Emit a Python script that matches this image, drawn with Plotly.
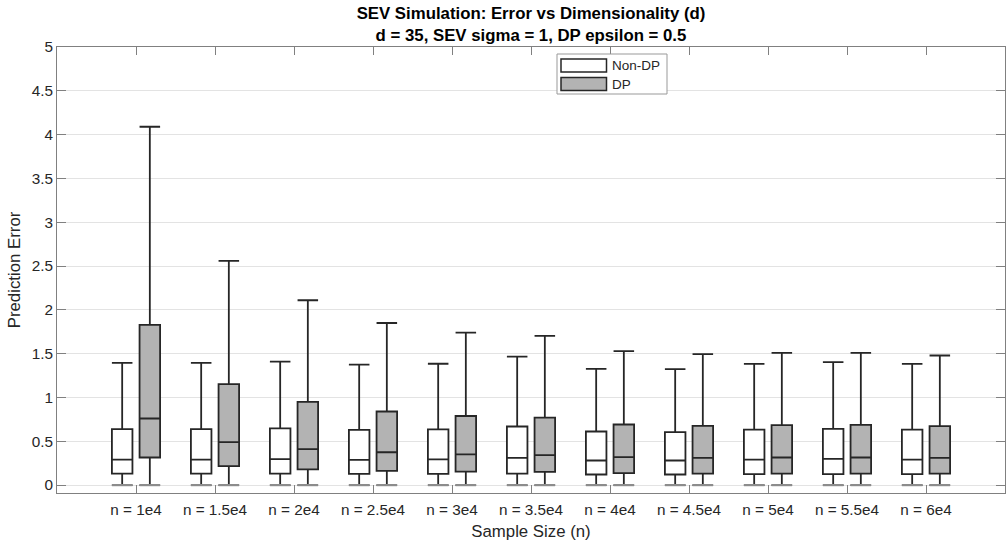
import plotly.graph_objects as go

groups = ["n = 1e4", "n = 1.5e4", "n = 2e4", "n = 2.5e4", "n = 3e4", "n = 3.5e4",
          "n = 4e4", "n = 4.5e4", "n = 5e4", "n = 5.5e4", "n = 6e4"]

# Non-DP box statistics
nondp_low = [0, 0, 0, 0, 0, 0, 0, 0, 0, 0, 0]
nondp_q1 = [0.132, 0.132, 0.132, 0.129, 0.129, 0.132, 0.121, 0.121, 0.125, 0.125, 0.125]
nondp_med = [0.292, 0.292, 0.297, 0.289, 0.293, 0.311, 0.281, 0.281, 0.292, 0.300, 0.292]
nondp_q3 = [0.639, 0.639, 0.647, 0.631, 0.635, 0.669, 0.612, 0.605, 0.634, 0.642, 0.634]
nondp_up = [1.395, 1.395, 1.41, 1.375, 1.385, 1.467, 1.327, 1.323, 1.384, 1.403, 1.384]

# DP box statistics
dp_low = [0, 0, 0, 0, 0, 0, 0, 0, 0, 0, 0]
dp_q1 = [0.315, 0.217, 0.18, 0.163, 0.155, 0.152, 0.137, 0.132, 0.132, 0.132, 0.132]
dp_med = [0.76, 0.49, 0.41, 0.375, 0.35, 0.342, 0.319, 0.311, 0.315, 0.315, 0.311]
dp_q3 = [1.829, 1.152, 0.95, 0.84, 0.789, 0.771, 0.692, 0.677, 0.685, 0.688, 0.673]
dp_up = [4.09, 2.56, 2.11, 1.85, 1.74, 1.703, 1.529, 1.494, 1.509, 1.509, 1.479]

y_ticks = [0, 0.5, 1, 1.5, 2, 2.5, 3, 3.5, 4, 4.5, 5]
y_ticktext = ["0", "0.5", "1", "1.5", "2", "2.5", "3", "3.5", "4", "4.5", "5"]

OFFSET = 0.175
BOXW = 0.26
LINE = "#262626"
DPFILL = "#b3b3b3"
CAPGRAY = "#8c8c8c"
FONT = "Liberation Sans, Arial, Helvetica, sans-serif"

idx = list(range(len(groups)))
x_nondp = [i - OFFSET for i in idx]
x_dp = [i + OFFSET for i in idx]

fig = go.Figure()
fig.add_trace(go.Box(
    name="Non-DP", x=x_nondp, q1=nondp_q1, median=nondp_med, q3=nondp_q3,
    lowerfence=nondp_low, upperfence=nondp_up, width=BOXW, whiskerwidth=1,
    fillcolor="white", line=dict(color=LINE, width=1.8), boxpoints=False,
    hoverinfo="skip", showlegend=False))
fig.add_trace(go.Box(
    name="DP", x=x_dp, q1=dp_q1, median=dp_med, q3=dp_q3,
    lowerfence=dp_low, upperfence=dp_up, width=BOXW, whiskerwidth=1,
    fillcolor=DPFILL, line=dict(color=LINE, width=1.8), boxpoints=False,
    hoverinfo="skip", showlegend=False))

# gray lower whisker caps
cx, cy = [], []
for xs, lows in ((x_nondp, nondp_low), (x_dp, dp_low)):
    for x, lo in zip(xs, lows):
        cx += [x - BOXW / 2, x + BOXW / 2, None]
        cy += [lo, lo, None]
fig.add_trace(go.Scatter(x=cx, y=cy, mode="lines", line=dict(color=CAPGRAY, width=2.2),
                         hoverinfo="skip", showlegend=False))

# Plot area in pixels
L, R, T, B = 57, 1005, 47, 493
W, H = 1006, 543


def px(X):
    return (X - L) / (R - L)


def py(Y):
    return 1 - (Y - T) / (B - T)


shapes = [
    dict(type="rect", xref="paper", yref="paper", x0=px(557), x1=px(667), y0=py(94), y1=py(54),
         fillcolor="white", line=dict(color="#999999", width=1), layer="above"),
    dict(type="rect", xref="paper", yref="paper", x0=px(561), x1=px(606.5), y0=py(72), y1=py(59),
         fillcolor="white", line=dict(color=LINE, width=1.5), layer="above"),
    dict(type="rect", xref="paper", yref="paper", x0=px(561), x1=px(606.5), y0=py(90.5), y1=py(77.5),
         fillcolor=DPFILL, line=dict(color=LINE, width=1.5), layer="above"),
]
annotations = [
    dict(xref="paper", yref="paper", x=px(610), y=py(65.5), text="Non-DP", showarrow=False,
         xanchor="left", yanchor="middle", font=dict(family=FONT, size=13.5, color="#262626")),
    dict(xref="paper", yref="paper", x=px(610), y=py(84), text="DP", showarrow=False,
         xanchor="left", yanchor="middle", font=dict(family=FONT, size=13.5, color="#262626")),
]

fig.update_layout(
    width=W, height=H,
    margin=dict(l=L, r=W - R, t=T, b=H - B),
    paper_bgcolor="white", plot_bgcolor="white",
    font=dict(family=FONT, color="#262626"),
    title=dict(text="<b>SEV Simulation: Error vs Dimensionality (d)</b><br><b>d = 35, SEV sigma = 1, DP epsilon = 0.5</b>",
               x=(L + R) / 2 / W, xanchor="center", y=1 - 19 / H, yanchor="middle",
               font=dict(size=16.8, color="black", family=FONT)),
    shapes=shapes, annotations=annotations,
    showlegend=False,
)
fig.update_xaxes(
    range=[-1, 11], tickmode="array", tickvals=idx, ticktext=groups,
    showgrid=False, zeroline=False,
    showline=True, linecolor="#808080", linewidth=1, mirror="ticks",
    ticks="inside", ticklen=8, tickcolor="#808080", tickwidth=1,
    ticklabelstandoff=3,
    tickfont=dict(size=15.3, color="#262626"),
    title=dict(text="Sample Size (n)", font=dict(size=16.8, color="#262626"), standoff=7),
)
fig.update_yaxes(
    range=[-0.09, 5], tickmode="array", tickvals=y_ticks, ticktext=y_ticktext,
    showgrid=True, gridcolor="#e3e3e3", gridwidth=1, zeroline=False,
    showline=True, linecolor="#808080", linewidth=1, mirror="ticks",
    ticks="inside", ticklen=9, tickcolor="#808080", tickwidth=1,
    tickfont=dict(size=15.3, color="#262626"),
    title=dict(text="Prediction Error", font=dict(size=16.8, color="#262626"), standoff=6),
)

fig.write_html("out.html")
